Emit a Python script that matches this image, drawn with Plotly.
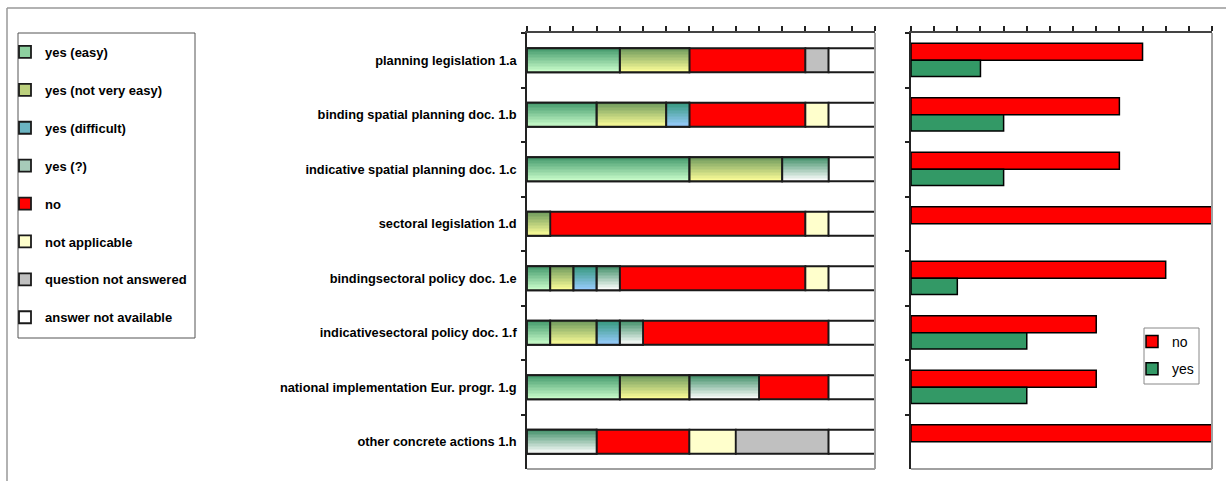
import plotly.graph_objects as go

# Measures, top to bottom
categories = [
    "planning legislation 1.a",
    "binding spatial planning doc. 1.b",
    "indicative spatial planning doc. 1.c",
    "sectoral legislation 1.d",
    "bindingsectoral policy doc. 1.e",
    "indicativesectoral policy doc. 1.f",
    "national implementation Eur. progr. 1.g",
    "other concrete actions 1.h",
]

# Number of countries per answer (left chart, stacked)
yes_easy = [4, 3, 7, 0, 1, 1, 4, 0]
yes_not_very_easy = [3, 3, 4, 1, 1, 2, 3, 0]
yes_difficult = [0, 1, 0, 0, 1, 1, 0, 0]
yes_unclear = [0, 0, 2, 0, 1, 1, 3, 3]
no_answer = [5, 5, 0, 11, 8, 8, 3, 4]
not_applicable = [0, 1, 0, 1, 1, 0, 0, 2]
question_not_answered = [1, 0, 0, 0, 0, 0, 0, 4]
answer_not_available = [2, 2, 2, 2, 2, 2, 2, 2]

# Summary counts (right chart)
summary_no = [10, 9, 9, 13, 11, 8, 8, 13]
summary_yes = [3, 4, 4, 0, 2, 5, 5, 0]

W, H = 1226, 481
FONT = "Liberation Sans, Arial, sans-serif"

# name, values, (top colour, bottom colour) for gradients or a flat colour
series = [
    ("yes (easy)", yes_easy, ((63, 150, 105), (204, 255, 204))),
    ("yes (not very easy)", yes_not_very_easy, ((105, 150, 90), (255, 255, 153))),
    ("yes (difficult)", yes_difficult, ((50, 150, 120), (153, 204, 255))),
    ("yes (?)", yes_unclear, ((60, 140, 100), (255, 255, 255))),
    ("no", no_answer, "#ff0000"),
    ("not applicable", not_applicable, "#ffffcc"),
    ("question not answered", question_not_answered, "#c0c0c0"),
    ("answer not available", answer_not_available, "#ffffff"),
]


def rgb(c):
    return "rgb(%d,%d,%d)" % tuple(int(round(v)) for v in c)


def blend(c1, c2, t):
    return tuple(a + (b - a) * t for a, b in zip(c1, c2))


# running bases for the stacked segments
bases = []
run = [0] * len(categories)
for _, vals, _ in series:
    bases.append(list(run))
    run = [r + v for r, v in zip(run, vals)]


def nz(vals):
    return [v if v else None for v in vals]


BAR_W = 0.44
BAR_OFF = -0.22
EDGE = dict(color="#1a1a1a", width=1.8)

fig = go.Figure()

# legend-carrying stacked segments
for (name, vals, col), base in zip(series, bases):
    fill = rgb(blend(col[0], col[1], 0.55)) if isinstance(col, tuple) else col
    fig.add_trace(go.Bar(
        y=categories, x=nz(vals), base=base, orientation="h", name=name,
        legendgroup=name, width=BAR_W, offset=BAR_OFF,
        marker=dict(color=fill, line=EDGE), xaxis="x", yaxis="y",
        hoverinfo="skip",
    ))

# vertical shading for the "yes" segments, drawn as thin horizontal strips
N = 16
for (name, vals, col), base in zip(series, bases):
    if not isinstance(col, tuple):
        continue
    for k in range(N):
        t = (k + 0.5) / N
        fig.add_trace(go.Bar(
            y=categories, x=nz(vals), base=base, orientation="h",
            legendgroup=name, showlegend=False,
            width=BAR_W / N + 0.004, offset=BAR_OFF + k * BAR_W / N,
            marker=dict(color=rgb(blend(col[0], col[1], t)), line=dict(width=0)),
            xaxis="x", yaxis="y", hoverinfo="skip",
        ))

# outlines on top of the shaded segments
for (name, vals, col), base in zip(series, bases):
    if not isinstance(col, tuple):
        continue
    fig.add_trace(go.Bar(
        y=categories, x=nz(vals), base=base, orientation="h",
        legendgroup=name, showlegend=False, width=BAR_W, offset=BAR_OFF,
        marker=dict(color="rgba(0,0,0,0)", line=EDGE),
        xaxis="x", yaxis="y", hoverinfo="skip",
    ))

# summary chart
fig.add_trace(go.Bar(
    y=categories, x=nz(summary_no), orientation="h", name="no",
    width=0.31, offset=-0.31, legend="legend2", legendgroup="sum_no",
    marker=dict(color="#ff0000", line=dict(color="#000000", width=1.5)),
    xaxis="x2", yaxis="y2",
))
fig.add_trace(go.Bar(
    y=categories, x=nz(summary_yes), orientation="h", name="yes",
    width=0.30, offset=0.0, legend="legend2", legendgroup="sum_yes",
    marker=dict(color="#339966", line=dict(color="#000000", width=1.5)),
    xaxis="x2", yaxis="y2",
))

ytop = 1 - 33 / H
ybot = 1 - 469 / H

xcommon = dict(
    side="top", showline=True, linecolor="#444444", linewidth=2,
    ticks="outside", ticklen=5, tickcolor="#222222", tickwidth=1.5,
    tick0=0, dtick=1, showticklabels=False, showgrid=False, zeroline=False,
    fixedrange=True,
)
ycommon = dict(
    type="category", categoryorder="array", categoryarray=categories,
    range=[7.5, -0.5], showline=True, linecolor="#222222", linewidth=1.5,
    ticks="outside", tickson="boundaries", ticklen=4, tickcolor="#222222",
    tickwidth=1.5, showgrid=False, zeroline=False, fixedrange=True,
)

fig.update_layout(
    width=W, height=H,
    margin=dict(l=0, r=0, t=0, b=0),
    paper_bgcolor="white", plot_bgcolor="white",
    barmode="overlay",
    font=dict(family=FONT, color="#000000"),
    xaxis=dict(domain=[527 / W, 875 / W], range=[0, 15], anchor="y", **xcommon),
    yaxis=dict(domain=[ybot, ytop], anchor="x",
               tickfont=dict(family=FONT, size=12.8, weight=700, color="#000000"),
               ticklabelstandoff=6, **ycommon),
    xaxis2=dict(domain=[911 / W, 1212 / W], range=[0, 13], anchor="y2", **xcommon),
    yaxis2=dict(domain=[ybot, ytop], anchor="x2", showticklabels=False, **ycommon),
    legend=dict(
        x=5 / W, y=1 - 37 / H, xanchor="left", yanchor="top",
        traceorder="grouped", tracegroupgap=18, itemwidth=30,
        bgcolor="rgba(0,0,0,0)", borderwidth=0,
        font=dict(family=FONT, size=13, weight=700, color="#000000"),
        itemclick=False, itemdoubleclick=False,
    ),
    legend2=dict(
        x=1132 / W, y=1 - 326 / H, xanchor="left", yanchor="top",
        traceorder="grouped", tracegroupgap=6, itemwidth=30,
        bgcolor="rgba(0,0,0,0)", borderwidth=0,
        font=dict(family=FONT, size=14, color="#000000"),
        itemclick=False, itemdoubleclick=False,
    ),
    showlegend=True,
)

frame = dict(color="#999999", width=1.5)
shapes = [
    # outer frame (top and left)
    dict(type="line", xref="paper", yref="paper", x0=7 / W, x1=1, y0=1 - 8 / H, y1=1 - 8 / H, line=frame),
    dict(type="line", xref="paper", yref="paper", x0=7 / W, x1=7 / W, y0=0, y1=1 - 8 / H, line=frame),
    # legend boxes
    dict(type="rect", xref="paper", yref="paper", x0=18 / W, x1=195 / W,
         y0=1 - 338 / H, y1=1 - 33 / H, line=dict(color="#555555", width=1)),
    dict(type="rect", xref="paper", yref="paper", x0=1144 / W, x1=1199 / W,
         y0=1 - 384 / H, y1=1 - 328 / H, line=dict(color="#888888", width=1)),
]
for xa, ya in (("x", "y"), ("x2", "y2")):
    edge = dict(color="#a0a0a0", width=2)
    shapes.append(dict(type="line", xref=xa + " domain", yref=ya + " domain",
                       x0=1, x1=1, y0=0, y1=1, line=edge))
    shapes.append(dict(type="line", xref=xa + " domain", yref=ya + " domain",
                       x0=0, x1=1, y0=0, y1=0, line=edge))
fig.update_layout(shapes=shapes)

fig.write_html("out.html")
